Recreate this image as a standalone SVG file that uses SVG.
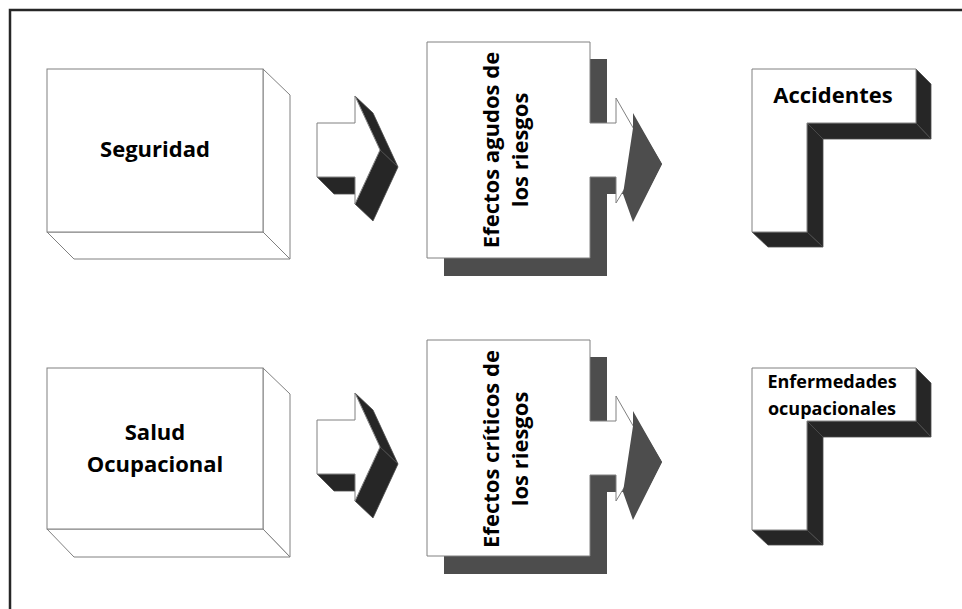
<svg xmlns="http://www.w3.org/2000/svg" width="962" height="609" viewBox="0 0 962 609">
<style>
.face{fill:#ffffff;stroke:#808080;stroke-width:1}
.dark{fill:#262626;stroke:#4a4a4a;stroke-width:0.8}
.shadow{fill:#4d4d4d;stroke:none}
.t{font-family:"Open Sans","Noto Sans","Liberation Sans",sans-serif;font-weight:bold;fill:#000;text-anchor:middle}
</style>
<rect x="0" y="0" width="962" height="609" fill="#ffffff"/>
<polyline points="10,609 10,10 962,10" fill="none" stroke="#262626" stroke-width="2.5"/>

<g id="seguridad">
<polygon class="face" points="263,69 290,95 290,259 263,232"/>
<polygon class="face" points="47,232 263,232 290,259 74,259"/>
<rect class="face" x="47" y="69" width="216" height="163"/>
<text class="t" x="155" y="157" font-size="22">Seguridad</text>
</g>

<g id="salud">
<polygon class="face" points="263,368 290,394 290,557 263,529"/>
<polygon class="face" points="47,529 263,529 290,557 74,557"/>
<rect class="face" x="47" y="368" width="216" height="161"/>
<text class="t" x="155" y="440" font-size="22">Salud</text>
<text class="t" x="155" y="472" font-size="22">Ocupacional</text>
</g>

<g id="connectors">
<g id="arrow1">
<polygon class="dark" points="317,177 355,177 373,194 334,194"/>
<polygon class="dark" points="355,96 380,150 398,167 373,113"/>
<polygon class="dark" points="380,150 355,204 373,221 398,167"/>
<polygon class="face" points="317,123 355,123 355,96 380,150 355,204 355,177 317,177"/>
</g>
<g id="arrow2" transform="translate(0,297)">
<polygon class="dark" points="317,177 355,177 373,194 334,194"/>
<polygon class="dark" points="355,96 380,150 398,167 373,113"/>
<polygon class="dark" points="380,150 355,204 373,221 398,167"/>
<polygon class="face" points="317,123 355,123 355,96 380,150 355,204 355,177 317,177"/>
</g>
</g>

<g id="agudos">
<polygon class="shadow" points="444,59 607,59 607,140 633,140 633,115 662,164 633,220 633,194 607,194 607,276 444,276"/>
<polygon class="face" points="427,42 590,42 590,123 616,123 616,98 647,152 616,203 616,177 590,177 590,258 427,258"/>
<polygon class="shadow" points="633,113 662,164 633,222 623,194 633,128"/>
<text class="t" font-size="22" transform="translate(499,150) rotate(-90)" x="0" y="0">Efectos agudos de</text>
<text class="t" font-size="22" transform="translate(528,150) rotate(-90)" x="0" y="0">los riesgos</text>
</g>

<g id="criticos" >
<g transform="translate(0,298)">
<polygon class="shadow" points="444,59 607,59 607,140 633,140 633,115 662,164 633,220 633,194 607,194 607,276 444,276"/>
<polygon class="face" points="427,42 590,42 590,123 616,123 616,98 647,152 616,203 616,177 590,177 590,258 427,258"/>
<polygon class="shadow" points="633,113 662,164 633,222 623,194 633,128"/>
</g>
<text class="t" font-size="22" transform="translate(499,449) rotate(-90)" x="0" y="0">Efectos críticos de</text>
<text class="t" font-size="22" transform="translate(528,449) rotate(-90)" x="0" y="0">los riesgos</text>
</g>

<g id="accidentes">
<polygon class="dark" points="916,69 931,84 931,139 916,123"/>
<polygon class="dark" points="807,123 916,123 931,139 823,139"/>
<polygon class="dark" points="807,123 823,139 823,247 807,232"/>
<polygon class="dark" points="752,232 807,232 823,247 768,247"/>
<polygon class="face" points="752,69 916,69 916,123 807,123 807,232 752,232"/>
<text class="t" x="833" y="103" font-size="22">Accidentes</text>
</g>

<g id="enfermedades">
<polygon class="dark" points="916,368 931,383 931,437 916,421"/>
<polygon class="dark" points="807,421 916,421 931,437 823,437"/>
<polygon class="dark" points="807,421 823,437 823,545 807,530"/>
<polygon class="dark" points="752,530 807,530 823,545 768,545"/>
<polygon class="face" points="752,368 916,368 916,421 807,421 807,530 752,530"/>
<text class="t" x="832" y="388" font-size="18">Enfermedades</text>
<text class="t" x="832" y="415" font-size="18">ocupacionales</text>
</g>
</svg>
